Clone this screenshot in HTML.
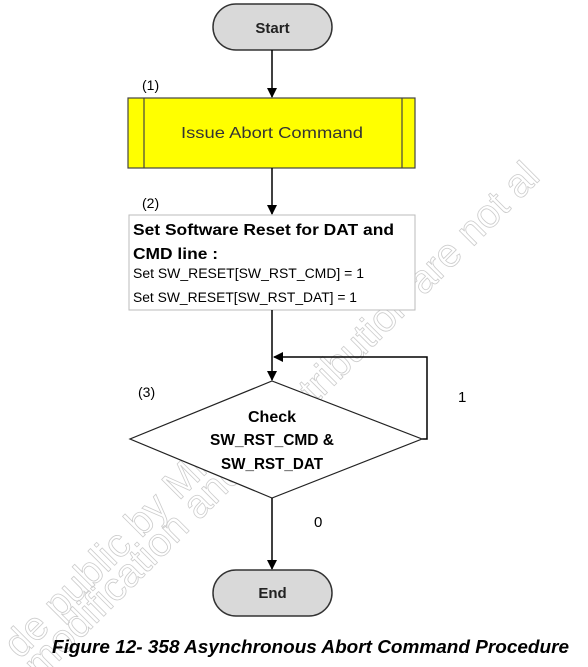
<!DOCTYPE html>
<html><head><meta charset="utf-8"><style>
html,body{margin:0;padding:0;background:#fff;width:588px;height:667px;overflow:hidden}
svg{display:block;font-family:"Liberation Sans",sans-serif}
</style></head><body>
<svg width="588" height="667" viewBox="0 0 588 667" xmlns="http://www.w3.org/2000/svg">
<defs><marker id="a" markerWidth="10" markerHeight="10" refX="9" refY="5" orient="auto" markerUnits="userSpaceOnUse"><path d="M0,0 L10,5 L0,10 Z" fill="#000"/></marker></defs>
<g fill="none" stroke="#ccc" stroke-width="0.8" font-size="40">
<text x="0" y="0" transform="translate(20,660) rotate(-45)">de public by Milk-V</text>
<text x="0" y="0" transform="translate(40,680) rotate(-45)">modification and redistribution are not al</text>
</g>
<rect x="213" y="4" width="119" height="46" rx="23" fill="#d9d9d9" stroke="#333" stroke-width="1.5"/>
<text x="272.5" y="33" font-size="15" font-weight="bold" text-anchor="middle" fill="#222">Start</text>
<line x1="272" y1="50" x2="272" y2="97" stroke="#000" stroke-width="1.5" marker-end="url(#a)"/>
<text x="142" y="90" font-size="14">(1)</text>
<rect x="128" y="98" width="287" height="70" fill="#ffff00" stroke="#444" stroke-width="1.2"/>
<line x1="144" y1="98" x2="144" y2="168" stroke="#444" stroke-width="1.2"/>
<line x1="402" y1="98" x2="402" y2="168" stroke="#444" stroke-width="1.2"/>
<text x="272" y="138" font-size="16" text-anchor="middle" textLength="182" lengthAdjust="spacingAndGlyphs" fill="#333">Issue Abort Command</text>
<line x1="272" y1="168" x2="272" y2="214" stroke="#000" stroke-width="1.5" marker-end="url(#a)"/>
<text x="142" y="208" font-size="14">(2)</text>
<rect x="129" y="215" width="286" height="95" fill="#fff" stroke="#bbb" stroke-width="1"/>
<text x="133" y="235" font-size="16" font-weight="bold" textLength="261" lengthAdjust="spacingAndGlyphs">Set Software Reset for DAT and</text>
<text x="133" y="259" font-size="16" font-weight="bold" textLength="85" lengthAdjust="spacingAndGlyphs">CMD line :</text>
<text x="133" y="278" font-size="13.5" textLength="231" lengthAdjust="spacingAndGlyphs">Set SW_RESET[SW_RST_CMD] = 1</text>
<text x="133" y="302" font-size="13.5" textLength="224" lengthAdjust="spacingAndGlyphs">Set SW_RESET[SW_RST_DAT] = 1</text>
<line x1="272" y1="310" x2="272" y2="380" stroke="#000" stroke-width="1.5" marker-end="url(#a)"/>
<polyline points="422,439 427,439 427,357 274,357" fill="none" stroke="#000" stroke-width="1.5" marker-end="url(#a)"/>
<polygon points="272,381 422,439 272,498 130,439" fill="#fff" stroke="#222" stroke-width="1.2"/>
<text x="138" y="397" font-size="14">(3)</text>
<text x="272" y="422" font-size="16" font-weight="bold" text-anchor="middle" textLength="48" lengthAdjust="spacingAndGlyphs">Check</text>
<text x="272" y="445" font-size="16" font-weight="bold" text-anchor="middle" textLength="124" lengthAdjust="spacingAndGlyphs">SW_RST_CMD &amp;</text>
<text x="272" y="469" font-size="16" font-weight="bold" text-anchor="middle" textLength="102" lengthAdjust="spacingAndGlyphs">SW_RST_DAT</text>
<text x="458" y="402" font-size="15">1</text>
<text x="314" y="527" font-size="15">0</text>
<line x1="272" y1="498" x2="272" y2="569" stroke="#000" stroke-width="1.5" marker-end="url(#a)"/>
<rect x="213" y="570" width="119" height="46" rx="23" fill="#d9d9d9" stroke="#333" stroke-width="1.5"/>
<text x="272.5" y="598" font-size="15" font-weight="bold" text-anchor="middle" fill="#222">End</text>
<text x="52" y="653" font-size="18" font-weight="bold" font-style="italic" textLength="517" lengthAdjust="spacingAndGlyphs">Figure 12-  358 Asynchronous Abort Command Procedure</text>
</svg>
</body></html>
